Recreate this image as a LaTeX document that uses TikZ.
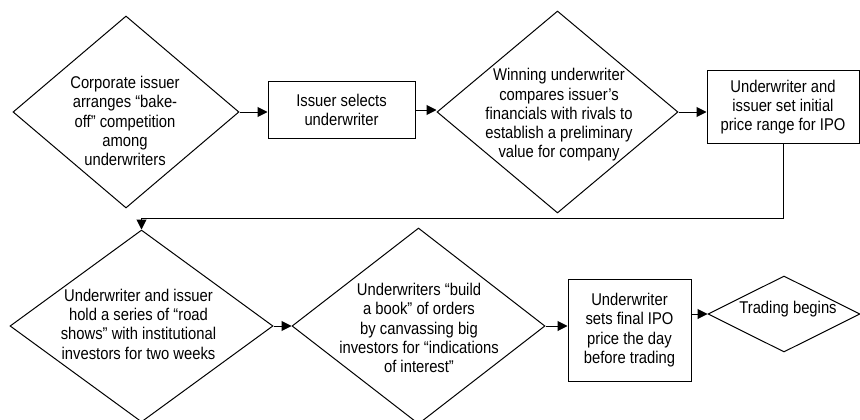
\documentclass[tikz,border=0pt]{standalone}
\usepackage{fontspec}
\setmainfont{Liberation Sans}[FakeStretch=0.87]
\usetikzlibrary{shapes.geometric,arrows.meta}
\begin{document}
\begin{tikzpicture}[x=1pt,y=-1pt,
  every node/.style={font=\fontsize{17}{19.3}\selectfont},
  dia/.style={draw, diamond, line width=1pt, inner sep=0pt},
  box/.style={draw, rectangle, line width=1pt, inner sep=0pt, align=center},
  lbl/.style={align=center, inner sep=0pt},
  arr/.style={-{Triangle[length=10pt,width=10pt]}, line width=1pt}]
\clip (0,0) rectangle (860,420);
\fill[white] (0,0) rectangle (860,420);
% row 1
\node[dia, minimum width=226pt, minimum height=192pt] (d1) at (126,112) {};
\node[lbl] (t1) at (125,121) {Corporate issuer\\arranges “bake-\\off” competition\\among\\underwriters};
\node[box, minimum width=147pt, minimum height=56pt] (b2) at (341.5,110) {Issuer selects\\underwriter};
\node[dia, minimum width=241pt, minimum height=202pt] (d3) at (557.5,112) {};
\node[lbl] (t3) at (559,115) {Winning underwriter\\compares issuer’s\\financials with rivals to\\establish a preliminary\\value for company};
\node[box, minimum width=152pt, minimum height=72pt] (b4) at (783,107) {Underwriter and\\issuer set initial\\price range for IPO};
% row 2
\node[dia, minimum width=263pt, minimum height=192pt] (d5) at (141.5,326) {};
\node[lbl] (t5) at (138.5,324) {Underwriter and issuer\\hold a series of “road\\shows” with institutional\\investors for two weeks};
\node[dia, minimum width=253pt, minimum height=196pt] (d6) at (418.5,326) {};
\node[lbl] (t6) at (419,328) {Underwriters “build\\a book” of orders\\by canvassing big\\investors for “indications\\of interest”};
\node[box, minimum width=123pt, minimum height=102pt] (b7) at (629.5,330) {Underwriter\\sets final IPO\\price the day\\before trading};
\node[dia, minimum width=152pt, minimum height=76pt] (d8) at (784,314) {};
\node[lbl] (t8) at (788,309) {Trading begins};
\coordinate (turn) at (0,218);
% connectors
\draw[arr] (d1.east) -- (d1.east -| b2.west);
\draw[arr] (b2.east) -- (b2.east -| d3.west);
\draw[arr] (d3.east) -- (d3.east -| b4.west);
\draw[arr] (b4.south) -- (b4.south |- turn) -| (d5.north);
\draw[arr] (d5.east) -- (d6.west);
\draw[arr] (d6.east) -- (d6.east -| b7.west);
\draw[arr] (b7.east |- d8.west) -- (d8.west);
\end{tikzpicture}
\end{document}
